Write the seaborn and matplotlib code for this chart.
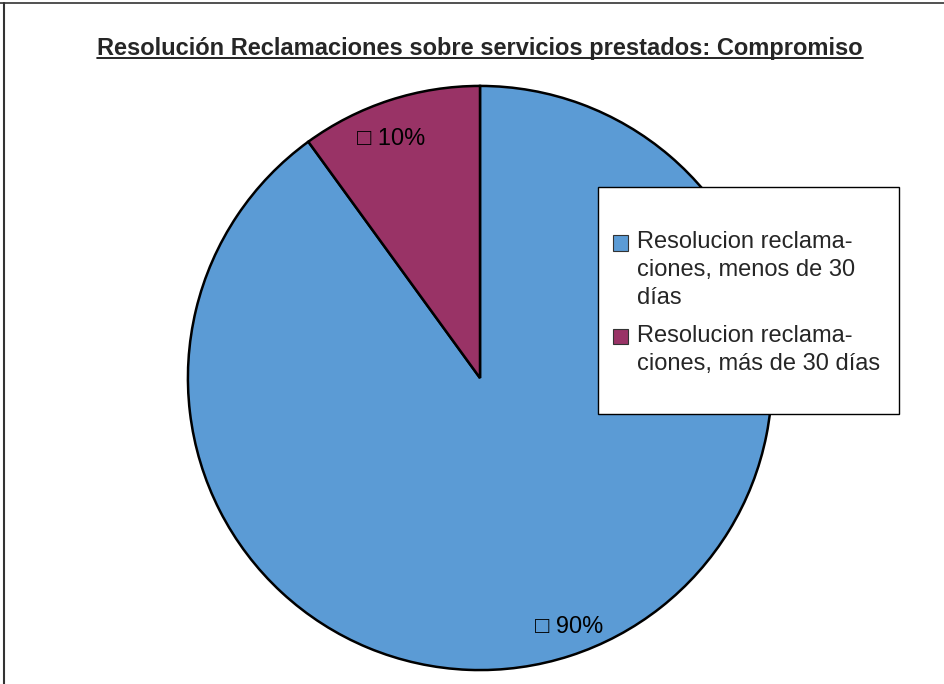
import matplotlib
matplotlib.use("Agg")
import matplotlib.pyplot as plt
import seaborn as sns
from matplotlib.lines import Line2D
from matplotlib.patches import Rectangle, Patch
from matplotlib.legend_handler import HandlerPatch

sns.set_theme(style="white")
plt.rcParams['font.family'] = ['Liberation Sans', 'DejaVu Sans']

# data
categories = ['Resolucion reclamaciones, menos de 30 días',
              'Resolucion reclamaciones, más de 30 días']
legend_labels = ['Resolucion reclama-\nciones, menos de 30\ndías',
                 'Resolucion reclama-\nciones, más de 30 días']
values = [90, 10]
colors = ['#5B9BD5', '#993366']
title = 'Resolución Reclamaciones sobre servicios prestados: Compromiso'

W, H = 944, 684
FS = 17
LINESP = 1.35
fig = plt.figure(figsize=(W / 100, H / 100), dpi=100)

# pie axes: center (480, 378) px from top, radius ~295 px
cx, cy, r = 480, 378, 295
ax = fig.add_axes([(cx - r) / W, (H - cy - r) / H, 2 * r / W, 2 * r / H])
wedges, texts, autotexts = ax.pie(
    values, colors=colors, startangle=90, counterclock=False,
    autopct=lambda p: f'\u25a1 {p:.0f}%', pctdistance=0.88, radius=1,
    wedgeprops=dict(edgecolor='black', linewidth=1.8),
    textprops=dict(fontsize=FS, color='black'))
for at in autotexts:
    x, y = at.get_position()
    at.set_position((x * 1.12, y - 0.017))
ax.set_xlim(-1.01, 1.01)
ax.set_ylim(-1.01, 1.01)
ax.set_aspect('equal')
ax.axis('off')

# title with underline
t = fig.text(480 / W, 1 - 48 / H, title, ha='center', va='center',
             fontsize=17, fontweight='bold')
fig.canvas.draw()
bb = t.get_window_extent().transformed(fig.transFigure.inverted())
fig.add_artist(Line2D([bb.x0, bb.x1], [bb.y0 + 0.002, bb.y0 + 0.002],
                      transform=fig.transFigure, color='black', lw=1.2))


# legend key sits next to the first line of each entry
class TopKey(HandlerPatch):
    def __init__(self, nlines, **kw):
        super().__init__(**kw)
        self.nlines = nlines

    def create_artists(self, legend, orig_handle, xdescent, ydescent,
                       width, height, fontsize, trans):
        shift = (self.nlines - 1) / 2 * 1.16 * fontsize
        p = Rectangle((-xdescent, -ydescent + shift), width, height,
                      facecolor=orig_handle.get_facecolor(),
                      edgecolor=orig_handle.get_edgecolor(),
                      lw=orig_handle.get_linewidth(), transform=trans)
        return [p]


lx0, ly0, lx1, ly1 = 598, 187, 899, 414
fig.add_artist(Rectangle((lx0 / W, 1 - ly1 / H), (lx1 - lx0) / W, (ly1 - ly0) / H,
                         transform=fig.transFigure, facecolor='white',
                         edgecolor='black', lw=1.0, zorder=3))
handles = [Patch(facecolor=c, edgecolor='#333333', lw=0.8) for c in colors]
hmap = {h: TopKey(lab.count('\n') + 1) for h, lab in zip(handles, legend_labels)}
leg = fig.legend(handles, legend_labels, loc='upper left', handler_map=hmap,
                 bbox_to_anchor=(613 / W, 1 - 231 / H), frameon=False,
                 fontsize=FS, handlelength=0.64, handleheight=0.64,
                 handletextpad=0.38, labelspacing=0.68, borderpad=0, borderaxespad=0)
for txt in leg.get_texts():
    txt.set_linespacing(LINESP)

# outer border (top and left)
fig.add_artist(Line2D([0, 1], [1 - 3 / H, 1 - 3 / H], transform=fig.transFigure,
                      color='#333333', lw=1.2))
fig.add_artist(Line2D([4 / W, 4 / W], [0, 1 - 3 / H], transform=fig.transFigure,
                      color='#333333', lw=1.5))

fig.savefig('out.png', dpi=100, facecolor='white')
